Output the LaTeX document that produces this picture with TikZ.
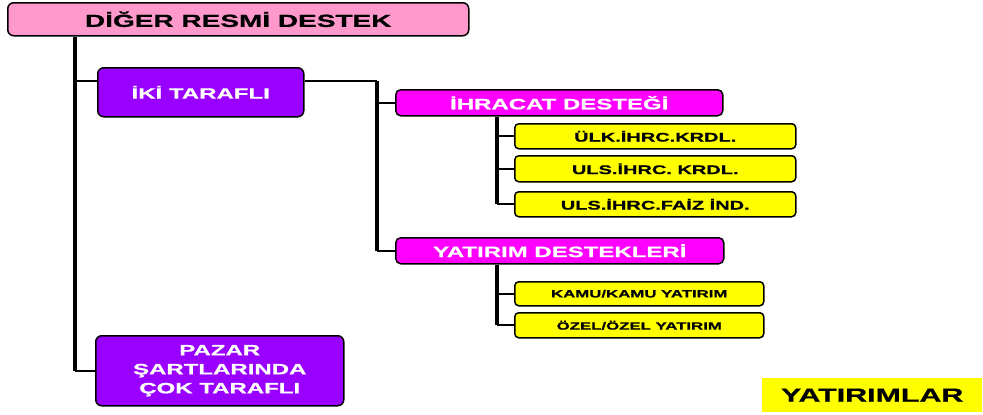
\documentclass[tikz,border=0pt]{standalone}
\usepackage{fontspec}
\setmainfont{Liberation Sans}
\newfontfamily\boxfont[FakeStretch=1.6, BoldFeatures={FakeBold=0.8}]{Liberation Sans}
\usetikzlibrary{positioning}
\definecolor{rosepink}{HTML}{FF99CC}
\definecolor{violetbox}{HTML}{9900FF}
\definecolor{magentabox}{HTML}{FF00FF}
\definecolor{yellowbox}{HTML}{FFFF00}

\begin{document}
\begin{tikzpicture}[x=1pt, y=-1pt,
    box/.style={draw=black, line width=1.5pt, rounded corners=6pt, inner sep=0pt, align=center, anchor=north west},
    rootbox/.style={box, fill=rosepink, text=black, font=\boxfont\bfseries\fontsize{17.5}{20}\selectfont},
    sidebox/.style={box, fill=violetbox, text=white, font=\boxfont\bfseries\fontsize{15}{19}\selectfont},
    supbox/.style={box, rounded corners=5pt, fill=magentabox, text=white, font=\boxfont\bfseries\fontsize{15}{18}\selectfont},
    itembox/.style={box, rounded corners=4pt, fill=yellowbox, text=black, font=\boxfont\bfseries\fontsize{12.5}{15}\selectfont},
    smallbox/.style={itembox, font=\boxfont\bfseries\fontsize{10.5}{12}\selectfont},
    vline/.style={draw=black, line width=3.2pt},
    hline/.style={draw=black, line width=2pt}]
			\useasboundingbox (0,0) rectangle (983,415);
			
			% Boxes
			\node[rootbox, minimum width=461pt, minimum height=33pt] (top) at (7,2) {DİĞER RESMİ DESTEK};
			\node[sidebox, minimum width=206pt, minimum height=49pt] (iki) at (97,67) {İKİ TARAFLI};
			\node[sidebox, minimum width=248pt, minimum height=70pt] (pazar) at (95,335) {PAZAR\\ŞARTLARINDA\\ÇOK TARAFLI};
			\node[supbox, minimum width=327pt, minimum height=26pt] (ihr) at (395,89) {İHRACAT DESTEĞİ};
			\node[supbox, minimum width=328pt, minimum height=26pt] (yat) at (395,237) {YATIRIM DESTEKLERİ};
			\node[itembox, minimum width=281pt, minimum height=25pt] (u1) at (514,123) {ÜLK.İHRC.KRDL.};
			\node[itembox, minimum width=281pt, minimum height=26pt] (u2) at (514,155) {ULS.İHRC. KRDL.};
			\node[itembox, minimum width=281pt, minimum height=25pt] (u3) at (514,191) {ULS.İHRC.FAİZ İND.};
			\node[smallbox, minimum width=249pt, minimum height=24pt] (k1) at (514,281) {KAMU/KAMU YATIRIM};
			\node[smallbox, minimum width=249pt, minimum height=25pt] (k2) at (514,312) {ÖZEL/ÖZEL YATIRIM};
			\node[anchor=north west, fill=yellowbox, inner sep=0pt, minimum width=220pt, minimum height=34pt,
			      font=\boxfont\bfseries\fontsize{19}{22}\selectfont] (yatirimlar) at (762,378) {YATIRIMLAR};
			
			% Main trunk
			\coordinate (t1) at (75,0);
			\draw[vline] (top.south -| t1) -- (pazar.west -| t1);
			\draw[hline] ([yshift=11pt]iki.west -| t1) -- ([yshift=11pt]iki.west);
			\draw[hline] (pazar.west -| t1) -- (pazar.west);
			
			% Branches from iki
			\coordinate (t2) at (377,0);
			\draw[hline] ([yshift=11pt]iki.east) -- ([yshift=11pt]iki.east -| t2);
			\draw[vline] ([yshift=11pt]iki.east -| t2) -- (yat.west -| t2);
			\foreach \n in {ihr,yat}
				\draw[hline] (\n.west -| t2) -- (\n.west);
			
			% Items
			\coordinate (t3) at (497,0);
			\draw[vline] (ihr.south -| t3) -- (u3.west -| t3);
			\foreach \n in {u1,u2,u3}
				\draw[hline] (\n.west -| t3) -- (\n.west);
			\draw[vline] (yat.south -| t3) -- (k2.west -| t3);
			\foreach \n in {k1,k2}
				\draw[hline] (\n.west -| t3) -- (\n.west);
		\end{tikzpicture}
\end{document}
